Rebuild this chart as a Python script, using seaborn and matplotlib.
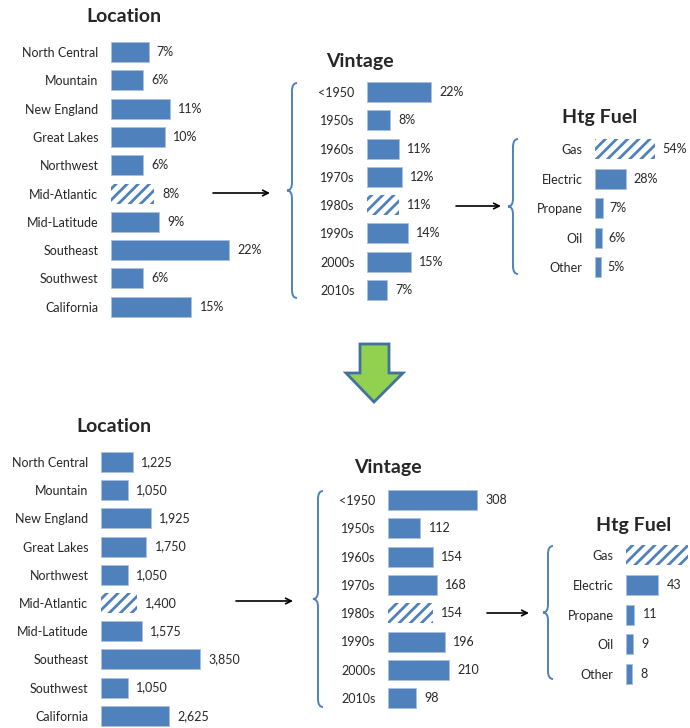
import matplotlib
matplotlib.use("Agg")
import matplotlib.pyplot as plt
from matplotlib.patches import Polygon, PathPatch
from matplotlib.path import Path
import seaborn as sns

# data
locations = ["North Central", "Mountain", "New England", "Great Lakes", "Northwest",
             "Mid-Atlantic", "Mid-Latitude", "Southeast", "Southwest", "California"]
location_pct = [7, 6, 11, 10, 6, 8, 9, 22, 6, 15]
location_count = [1225, 1050, 1925, 1750, 1050, 1400, 1575, 3850, 1050, 2625]

vintages = ["<1950", "1950s", "1960s", "1970s", "1980s", "1990s", "2000s", "2010s"]
vintage_pct = [22, 8, 11, 12, 11, 14, 15, 7]
vintage_count = [308, 112, 154, 168, 154, 196, 210, 98]

fuels = ["Gas", "Electric", "Propane", "Oil", "Other"]
fuel_pct = [54, 28, 7, 6, 5]
fuel_count = [83, 43, 11, 9, 8]

W, H = 690, 728
BLUE = "#4F81BD"
FS = 9
TS = 14

sns.set_style("white")
plt.rcParams["font.family"] = ["Lato", "DejaVu Sans"]
plt.rcParams["hatch.linewidth"] = 2.0

fig = plt.figure(figsize=(W / 100, H / 100), dpi=100)

# overlay axes in pixel coordinates for arrows, braces and titles
ov = fig.add_axes([0, 0, 1, 1])
ov.set_xlim(0, W)
ov.set_ylim(H, 0)
ov.axis("off")


def panel(cats, vals, hatched, left, first_y, step, px_per_unit, width_px, fmt, title, title_xy,
          hide_label=None, pad=6):
    n = len(cats)
    top = first_y - step / 2
    ax = fig.add_axes([left / W, 1 - (top + n * step) / H, width_px / W, n * step / H])
    sns.barplot(x=vals, y=cats, orient="h", color=BLUE, saturation=1, width=20 / step,
                edgecolor="#A9C1DF", linewidth=0.6, ax=ax)
    ax.set_xlim(0, width_px / px_per_unit)
    ax.set_ylim(n - 0.5, -0.5)
    bar = ax.patches[cats.index(hatched)]
    bar.set_facecolor("white")
    bar.set_edgecolor(BLUE)
    bar.set_hatch("///")
    bar.set_linewidth(0)
    labels = [fmt(v) for v in vals]
    if hide_label is not None:
        # this label falls past the right edge in the original
        labels[cats.index(hide_label)] = ""
    ax.bar_label(ax.containers[0], labels=labels, padding=pad, fontsize=FS)
    ax.set_xlabel("")
    ax.set_ylabel("")
    ax.set_xticks([])
    ax.tick_params(axis="y", length=0, pad=9, labelsize=FS)
    sns.despine(ax=ax, left=True, bottom=True)
    ax.patch.set_visible(False)
    ov.text(title_xy[0], title_xy[1], title, ha="center", va="center",
            fontsize=TS, fontweight="bold")
    return ax


def brace(x, y1, y2, w=5, r=8):
    ym = (y1 + y2) / 2
    verts = [(x + w, y1), (x, y1), (x, y1 + r),
             (x, ym - r), (x, ym), (x - w, ym),
             (x, ym), (x, ym + r),
             (x, y2 - r), (x, y2), (x + w, y2)]
    codes = [Path.MOVETO, Path.CURVE3, Path.CURVE3, Path.LINETO, Path.CURVE3, Path.CURVE3,
             Path.CURVE3, Path.CURVE3, Path.LINETO, Path.CURVE3, Path.CURVE3]
    ov.add_patch(PathPatch(Path(verts, codes), facecolor="none", edgecolor=BLUE, lw=1.4))


def arrow(x1, x2, y):
    ov.annotate("", xy=(x2, y), xytext=(x1, y),
                arrowprops=dict(arrowstyle="->", color="black", lw=1.2, mutation_scale=10,
                                shrinkA=0, shrinkB=0))


pct = lambda v: f"{v}%"
cnt = lambda v: f"{v:,}"

# top half: shares
panel(locations, location_pct, "Mid-Atlantic", 111, 52, 28.3, 5.36, 150, pct, "Location", (124, 17))
panel(vintages, vintage_pct, "1980s", 367, 92, 28.3, 2.9, 110, pct, "Vintage", (360, 61))
panel(fuels, fuel_pct, "Gas", 595, 149, 29.5, 1.12, 90, pct, "Htg Fuel", (600, 117), pad=5)

# bottom half: counts
panel(locations, location_count, "Mid-Atlantic", 101, 462, 28.2, 0.0258, 130, cnt, "Location", (114, 427))
panel(vintages, vintage_count, "1980s", 388, 500, 28.3, 0.289, 120, cnt, "Vintage", (388, 468))
panel(fuels, fuel_count, "Gas", 626, 555, 29.75, 0.75, 64, cnt, "Htg Fuel", (634, 525),
      hide_label="Gas")

brace(292, 83, 298)
brace(513, 139, 274)
brace(318, 491, 707)
brace(548, 546, 679)

arrow(213, 270, 193)
arrow(456, 501, 206)
arrow(236, 293, 601)
arrow(487, 529, 613)

# big green down arrow
ov.add_patch(Polygon([(360, 344), (389, 344), (389, 373), (403, 373), (374, 402),
                      (346, 373), (360, 373)], closed=True,
                     facecolor="#92D050", edgecolor="#41719C", lw=2))

fig.savefig("out.png", dpi=100)
